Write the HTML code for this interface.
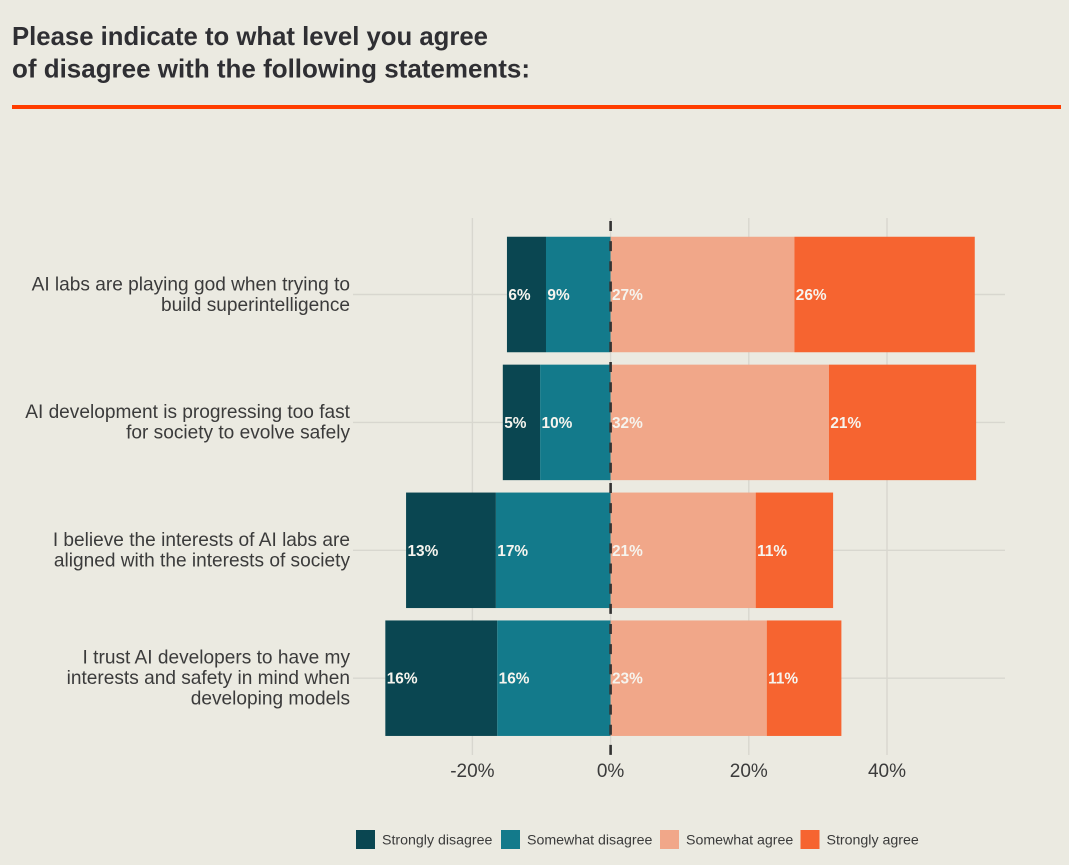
<!DOCTYPE html>
<html lang="en">
<head>
<meta charset="utf-8">
<title>Agreement with AI statements</title>
<style>
html,body{margin:0;padding:0;background:#ebeae1;}
body{width:1069px;height:865px;overflow:hidden;position:relative;font-family:"Liberation Sans",sans-serif;}
svg{position:absolute;left:0;top:0;display:block;}
</style>
</head>
<body>
<svg id="chart" width="1069" height="865" viewBox="0 0 1069 865" xmlns="http://www.w3.org/2000/svg">
  <rect x="0" y="0" width="1069" height="865" fill="#ebeae1"/>
  <text x="12" y="45" font-size="26" font-weight="700" fill="#2f2f33" textLength="476" lengthAdjust="spacingAndGlyphs">Please indicate to what level you agree</text>
  <text x="12" y="77.5" font-size="26" font-weight="700" fill="#2f2f33" textLength="518" lengthAdjust="spacingAndGlyphs">of disagree with the following statements:</text>
  <rect x="12" y="105" width="1049" height="4" fill="#ff3d00"/>
</svg>
<script>
const categories = [
  ["AI labs are playing god when trying to", "build superintelligence"],
  ["AI development is progressing too fast", "for society to evolve safely"],
  ["I believe the interests of AI labs are", "aligned with the interests of society"],
  ["I trust AI developers to have my", "interests and safety in mind when", "developing models"]
];
const seriesNames = ["Strongly disagree", "Somewhat disagree", "Somewhat agree", "Strongly agree"];
const stronglyDisagree = [5.65, 5.4, 13, 16.2];
const somewhatDisagree = [9.35, 10.2, 16.6, 16.4];
const somewhatAgree = [26.6, 31.6, 21, 22.6];
const stronglyAgree = [26.1, 21.3, 11.2, 10.8];
const stronglyDisagreeLabels = ["6%", "5%", "13%", "16%"];
const somewhatDisagreeLabels = ["9%", "10%", "17%", "16%"];
const somewhatAgreeLabels = ["27%", "32%", "21%", "23%"];
const stronglyAgreeLabels = ["26%", "21%", "11%", "11%"];
const xTicks = [-20, 0, 20, 40];
const xTickLabels = ["-20%", "0%", "20%", "40%"];

const colors = ["#0a4651", "#137a8b", "#f1a789", "#f66430"];
const NS = "http://www.w3.org/2000/svg";
const svg = document.getElementById("chart");
const xScale = function (v) { return 610.6 + v * 6.91; };
const yScale = function (i) { return 294.5 + i * 127.9; };
const bandHeight = 115.5;

function make(tag, attrs, parent) {
  const el = document.createElementNS(NS, tag);
  for (const k in attrs) el.setAttribute(k, attrs[k]);
  (parent || svg).appendChild(el);
  return el;
}

/* gridlines */
xTicks.forEach(function (t, i) {
  const line = make("line", { x1: xScale(t), x2: xScale(t), y1: 218, y2: 755, stroke: "#d8d7cf", "stroke-width": 1.4 });
  
  
  const label = make("text", { x: xScale(t), y: 777, "text-anchor": "middle", "font-size": 19, fill: "#3b3b3b" });
  label.textContent = xTickLabels[i];
  
  
});
categories.forEach(function (c, i) {
  const line = make("line", { x1: 353, x2: 1005, y1: yScale(i), y2: yScale(i), stroke: "#d8d7cf", "stroke-width": 1.4 });
  
  
});

/* category labels */
categories.forEach(function (lines, i) {
  const lineHeight = 20.5;
  const first = yScale(i) - (lines.length - 1) * lineHeight / 2 + 6;
  lines.forEach(function (t, j) {
    const label = make("text", { x: 350, y: first + j * lineHeight, "text-anchor": "end", "font-size": 19.1, fill: "#3b3b3b" });
    label.textContent = t;
    
    
  });
});

/* stacked bars */
function drawSegment(i, start, end, color, text) {
  const x0 = xScale(Math.min(start, end));
  const x1 = xScale(Math.max(start, end));
  const bar = make("rect", { x: x0, y: yScale(i) - bandHeight / 2, width: x1 - x0, height: bandHeight, fill: color });
  
  
  return { x0: x0, text: text, y: yScale(i) + 5.5 };
}
const pending = [];
categories.forEach(function (c, i) {
  const a = somewhatDisagree[i];
  const b = a + stronglyDisagree[i];
  const d = somewhatAgree[i];
  const e = d + stronglyAgree[i];
  pending.push(drawSegment(i, -b, -a, colors[0], stronglyDisagreeLabels[i]));
  pending.push(drawSegment(i, -a, 0, colors[1], somewhatDisagreeLabels[i]));
  pending.push(drawSegment(i, 0, d, colors[2], somewhatAgreeLabels[i]));
  pending.push(drawSegment(i, d, e, colors[3], stronglyAgreeLabels[i]));
});

/* zero dashed line */
const zeroLine = make("line", { x1: xScale(0), x2: xScale(0), y1: 221, y2: 755, stroke: "#333333", "stroke-width": 2.6, "stroke-dasharray": "10 10.15" });



/* value labels */
pending.forEach(function (p) {
  const label = make("text", { x: p.x0 + 1.4, y: p.y, "font-size": 15.4, "font-weight": 700, fill: "#f6f4ee" });
  label.textContent = p.text;
  
  
});

/* legend */
const legendSwatchX = [356, 501, 660, 800.5];
seriesNames.forEach(function (name, i) {
  const swatch = make("rect", { x: legendSwatchX[i], y: 830, width: 19, height: 19, fill: colors[i] });
  
  
  const label = make("text", { x: legendSwatchX[i] + 26, y: 844.5, "font-size": 14.2, fill: "#3b3b3b" });
  label.textContent = name;
  
  
});
</script>
</body>
</html>
